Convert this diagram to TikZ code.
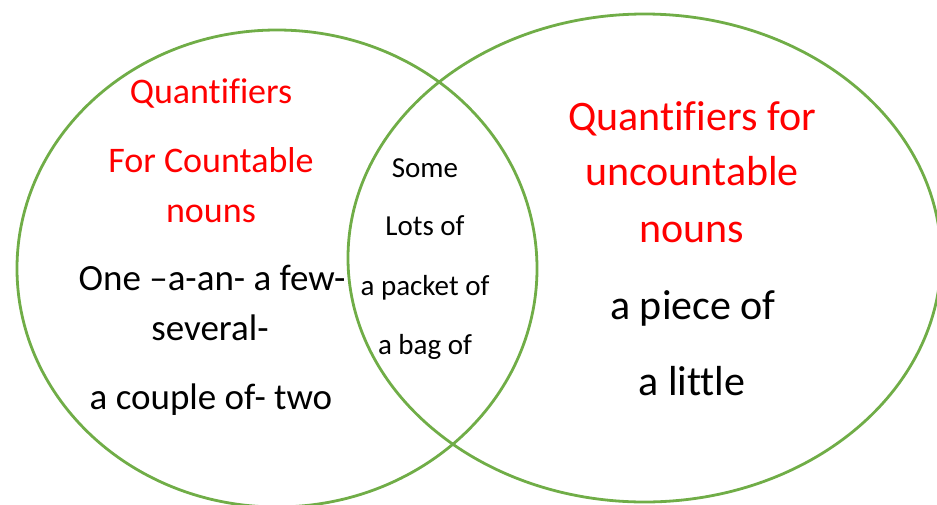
\documentclass[tikz,border=0pt]{standalone}
\usepackage{fontspec}
\setmainfont{Carlito}[Ligatures={NoCommon}]
\usepackage{tikz}
\usetikzlibrary{shapes.geometric}
\definecolor{ringgreen}{RGB}{112,173,71}
\definecolor{headred}{RGB}{255,0,0}

\begin{document}
\begin{tikzpicture}[
  x=1pt, y=-1pt,
  ring/.style={
    draw=ringgreen, line width=2.8pt, ellipse, inner sep=0pt
  },
  head/.style={anchor=base, text=headred},
  item/.style={anchor=base, text=black},
]
  \useasboundingbox (0,0) rectangle (937,504);

  % Sets
  \node[ring, minimum width=520pt, minimum height=477pt] (countable) at (277,268.5) {};
  \node[ring, minimum width=593pt, minimum height=488pt] (uncountable) at (644.5,258) {};

  % Countable nouns
  \node[head, font=\fontsize{36}{40}\selectfont] (chead1) at (211,103) {Quantifiers};
  \node[head, font=\fontsize{36}{40}\selectfont] (chead2) at (211,172) {For Countable};
  \node[head, font=\fontsize{36}{40}\selectfont] (chead3) at (211,222) {nouns};
  \node[item, font=\fontsize{37}{40}\selectfont] (citem1) at (212,290) {One –a-an- a few-};
  \node[item, font=\fontsize{37}{40}\selectfont] (citem2) at (210,340) {several-};
  \node[item, font=\fontsize{37}{40}\selectfont] (citem3) at (211,409) {a couple of- two};

  % Both
  \node[item, font=\fontsize{29}{32}\selectfont] (both1) at (425,177) {Some};
  \node[item, font=\fontsize{29}{32}\selectfont] (both2) at (425,235) {Lots of};
  \node[item, font=\fontsize{29}{32}\selectfont] (both3) at (425,295) {a packet of};
  \node[item, font=\fontsize{29}{32}\selectfont] (both4) at (425,354) {a bag of};

  % Uncountable nouns
  \node[head, font=\fontsize{42}{46}\selectfont] (uhead1) at (692,130) {Quantifiers for};
  \node[head, font=\fontsize{42}{46}\selectfont] (uhead2) at (692,185) {uncountable};
  \node[head, font=\fontsize{42}{46}\selectfont] (uhead3) at (692,242) {nouns};
  \node[item, font=\fontsize{42}{46}\selectfont] (uitem1) at (693,319) {a piece of};
  \node[item, font=\fontsize{42}{46}\selectfont] (uitem2) at (692,395) {a little};

\end{tikzpicture}
\end{document}
